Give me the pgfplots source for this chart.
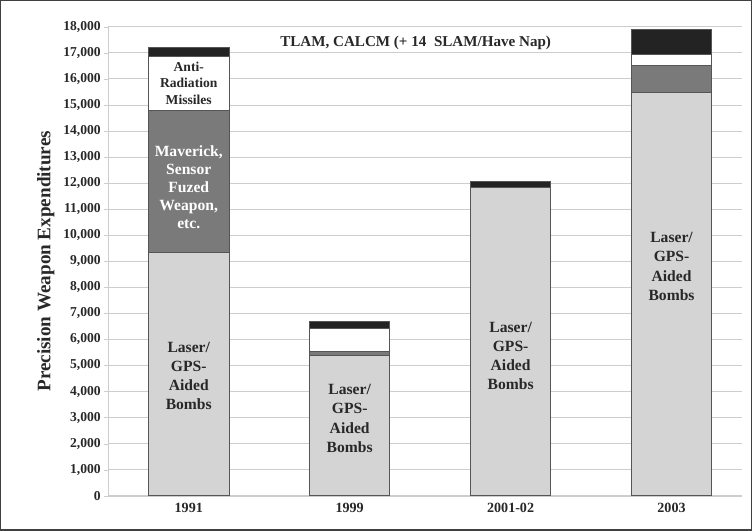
\documentclass[border=0pt]{standalone}
\usepackage{pgfplots}
\pgfplotsset{compat=1.18}
\usepackage{fontspec}
\setmainfont{Liberation Serif}
\definecolor{lightbar}{RGB}{212,212,212}
\definecolor{darkbar}{RGB}{122,122,122}
\definecolor{blackbar}{RGB}{35,35,35}
\definecolor{edge}{RGB}{85,85,85}
\definecolor{gridc}{RGB}{205,205,205}
\definecolor{txt}{RGB}{40,40,40}
\begin{document}
\begin{tikzpicture}
\begin{axis}[
  name=ax,
  scale only axis, width=630pt, height=466pt,
  xmin=-0.5, xmax=3.44, ymin=0, ymax=18000,
  ybar stacked, bar width=80pt,
  xtick={0,1,2,3}, xticklabels={1991,1999,2001-02,2003},
  ytick={0,1000,...,18000},
  scaled y ticks=false,
  /pgf/number format/.cd, fixed, 1000 sep={,}, assume math mode=true,
  /pgfplots/.cd,
  axis lines=left, axis line style={-, draw=gridc},
  ymajorgrids, grid style={gridc, line width=0.8pt},
  tick align=outside, major tick length=4pt,
  ytick style={draw=gridc}, xtick style={draw=none},
  yticklabel style={font=\bfseries\fontsize{13.5}{15}\selectfont, text=txt},
  xticklabel style={font=\bfseries\fontsize{14}{16}\selectfont, text=txt},
  ylabel={Precision Weapon Expenditures},
  ylabel style={font=\bfseries\fontsize{19}{22}\selectfont, text=txt, yshift=2pt},
  clip=false,
  every axis plot/.append style={draw=edge, line width=1pt},
]
\addplot[fill=lightbar] coordinates {(0,9340) (1,5400) (2,11850) (3,15480)};
\addplot[fill=darkbar] coordinates {(0,5450) (1,150) (2,0) (3,1040)};
\addplot[fill=white] coordinates {(0,2080) (1,860) (2,0) (3,430)};
\addplot[fill=blackbar] coordinates {(0,330) (1,270) (2,200) (3,930)};
\coordinate (tl) at (axis cs:1.41,17380);
\coordinate (ar) at (axis cs:0,15830);
\coordinate (mv) at (axis cs:0,11850);
\coordinate (l0) at (axis cs:0,4595);
\coordinate (l1) at (axis cs:1,2970);
\coordinate (l2) at (axis cs:2,5370);
\coordinate (l3) at (axis cs:3,8800);
\end{axis}
\node[font=\bfseries\fontsize{15}{17}\selectfont, text=txt] at (tl) {TLAM, CALCM (+ 14\ \ SLAM/Have Nap)};
\node[font=\bfseries\fontsize{13.5}{16}\selectfont, text=txt, align=center] at (ar) {Anti-\\Radiation\\Missiles};
\node[font=\bfseries\fontsize{15.5}{18}\selectfont, text=white, align=center] at (mv) {Maverick,\\Sensor\\Fuzed\\Weapon,\\etc.};
\foreach \c in {l0,l1,l2,l3}
  \node[font=\bfseries\fontsize{15.5}{19}\selectfont, text=txt, align=center] at (\c) {Laser/\\GPS-\\Aided\\Bombs};
\draw[line width=1.2pt, black!75] ([shift={(-107pt,-34pt)}]ax.south west) rectangle ([shift={(9pt,26pt)}]ax.north east);
\end{tikzpicture}
\end{document}
